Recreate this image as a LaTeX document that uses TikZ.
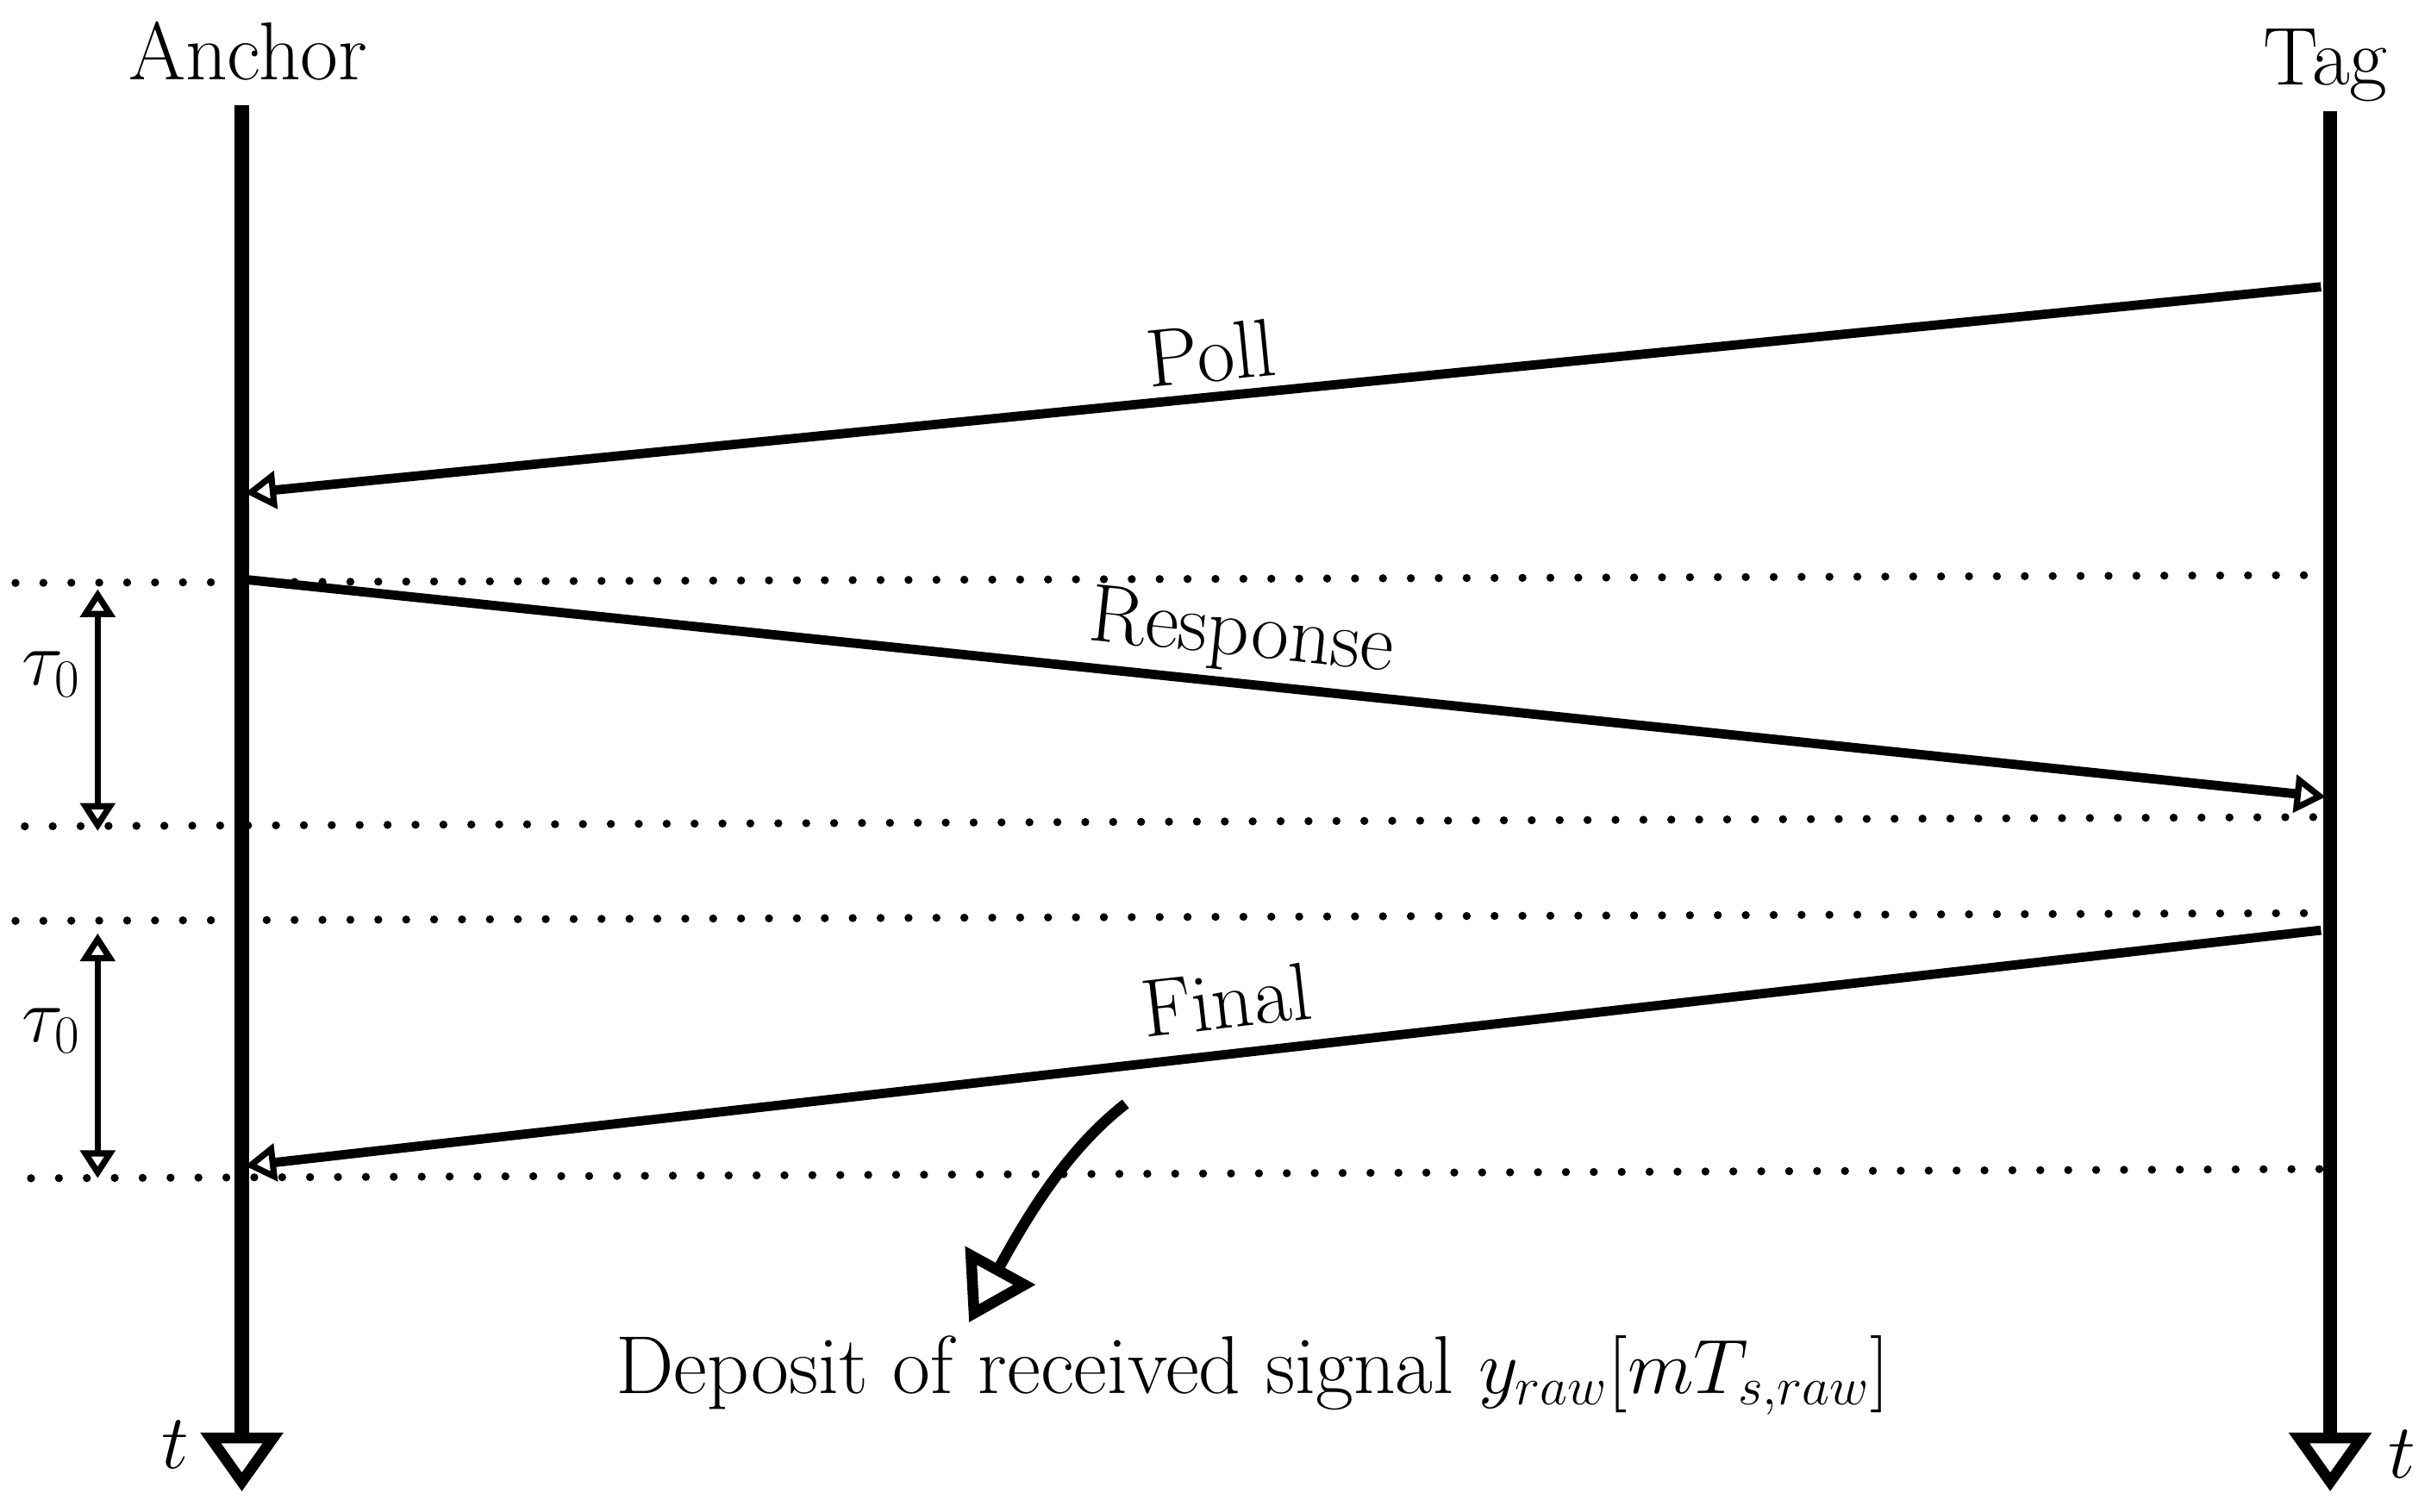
\documentclass[tikz,border=0pt]{standalone}
\usetikzlibrary{arrows.meta}
\begin{document}
\begin{tikzpicture}[x=0.5pt,y=-0.5pt,
  lbl/.style={font=\fontsize{26.5}{30}\selectfont, inner sep=1pt},
  timeline/.style={line width=4.5pt,-{Triangle[open,length=19pt,width=26pt,line width=3.5pt]}},
  msg/.style={line width=3pt,-{Triangle[open,length=10pt,width=12pt,line width=2pt]}},
  dots/.style={line width=2.6pt,line cap=round,dash pattern=on 0pt off 9pt},
  dbl/.style={line width=2pt,{Triangle[open,length=9pt,width=11pt]}-{Triangle[open,length=9pt,width=11pt]}}]
\useasboundingbox (0,0) rectangle (1568,975);
% timelines
\coordinate (a0) at (156,68); \coordinate (a1) at (156,962);
\coordinate (t0) at (1503,72); \coordinate (t1) at (1503,962);
\draw[timeline] (a0) -- (a1);
\draw[timeline] (t0) -- (t1);
\node[lbl] (anchor) at (160,33) {Anchor};
\node[lbl] (tag) at (1500,42) {Tag};
\node[lbl] (ta) at (113,932) {$t$};
\node[lbl] (tt) at (1549,938) {$t$};
% dotted lines
\coordinate (d1a) at (10,376); \coordinate (d1b) at (1490,371);
\coordinate (d2a) at (16,533); \coordinate (d2b) at (1500,527);
\coordinate (d3a) at (10,594); \coordinate (d3b) at (1490,589);
\coordinate (d4a) at (20,760); \coordinate (d4b) at (1510,754);
\draw[dots] (d1a) -- (d1b);
\draw[dots] (d2a) -- (d2b);
\draw[dots] (d3a) -- (d3b);
\draw[dots] (d4a) -- (d4b);
% messages
\coordinate (p0) at (1497,185); \coordinate (p1) at (158,318);
\coordinate (r0) at (160,374); \coordinate (r1) at (1500,514);
\coordinate (f0) at (1497,600); \coordinate (f1) at (158,752);
\draw[msg] (p0) -- (p1);
\draw[msg] (r0) -- (r1);
\draw[msg] (f0) -- (f1);
\node[lbl,rotate=5.7] (poll) at (781,228) {Poll};
\node[lbl,rotate=-6] (resp) at (801,410) {Response};
\node[lbl,rotate=6.5] (final) at (791,645) {Final};
% tau arrows
\coordinate (u0) at (63,380); \coordinate (u1) at (63,536);
\coordinate (v0) at (63,602); \coordinate (v1) at (63,760);
\draw[dbl] (u0) -- (u1);
\draw[dbl] (v0) -- (v1);
\node[lbl] (tau1) at (33,435) {$\tau_0$};
\node[lbl] (tau2) at (33,665) {$\tau_0$};
% deposit arrow
\coordinate (c0) at (726,712); \coordinate (c1) at (625,853);
\draw[line width=3.5pt,-{Triangle[open,length=21pt,width=25pt,line width=3.5pt]}] (c0) .. controls (690,740) and (665,780) .. (c1);
\node[lbl] (dep) at (808,887) {Deposit of received signal $y_{raw}[mT_{s,raw}]$};
\end{tikzpicture}
\end{document}
